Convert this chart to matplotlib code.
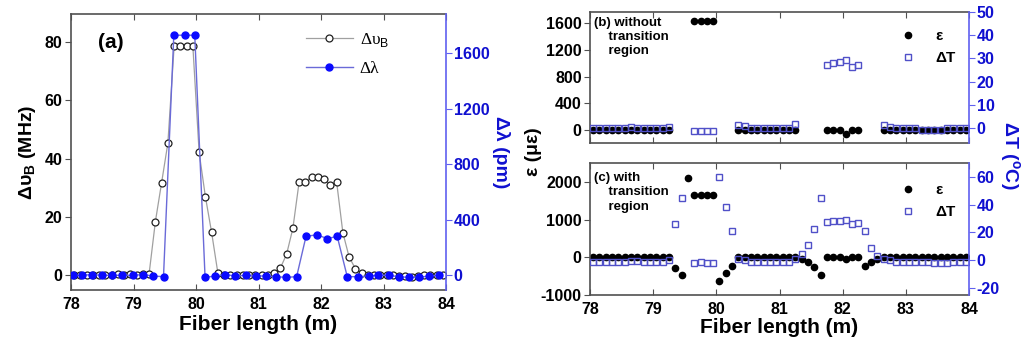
import numpy as np
import matplotlib
matplotlib.use('Agg')
import matplotlib.pyplot as plt

plt.rcParams['font.family'] = ['Liberation Sans', 'DejaVu Sans']
plt.rcParams['mathtext.fontset'] = 'custom'
plt.rcParams['mathtext.rm'] = 'Liberation Sans'
plt.rcParams['mathtext.bf'] = 'Liberation Sans:bold'
plt.rcParams['axes.unicode_minus'] = False

nan = np.nan

# ---- panel (a) data ----
x_nu = [78.05, 78.15, 78.25, 78.35, 78.45, 78.55, 78.65, 78.75, 78.85, 78.95,
        79.05, 79.15, 79.25, 79.35, 79.45, 79.55, 79.65, 79.75, 79.85, 79.95,
        80.05, 80.15, 80.25, 80.35, 80.45, 80.55, 80.65, 80.75, 80.85, 80.95,
        81.05, 81.15, 81.25, 81.35, 81.45, 81.55, 81.65, 81.75, 81.85, 81.95,
        82.05, 82.15, 82.25, 82.35, 82.45, 82.55, 82.65, 82.75, 82.85, 82.95,
        83.05, 83.15, 83.25, 83.35, 83.45, 83.55, 83.65, 83.75, 83.85, 83.95]
d_nu = [0.2, 0.1, 0.2, 0.2, 0.1, 0.3, 0.2, 0.4, 0.3, 0.4,
        0.3, 0.5, 0.6, 18.4, 31.8, 45.3, 78.4, 78.6, 78.5, 78.4,
        42.1, 27.0, 14.7, 0.8, 0.3, 0.0, 0.1, 0.3, 0.1, 0.2,
        0.3, 0.2, 0.8, 2.5, 7.3, 16.1, 32.0, 32.1, 33.6, 33.8,
        33.1, 30.8, 32.0, 14.6, 6.3, 2.3, 0.8, 0.3, 0.2, 0.3,
        0.2, 0.2, -0.1, -0.3, -0.4, -0.3, 0.0, 0.1, 0.3, 0.3]

x_lam = [78.03, 78.17, 78.34, 78.49, 78.65, 78.82, 78.99, 79.15, 79.31, 79.48,
         79.645, 79.82, 79.98, 80.145, 80.31, 80.47, 80.63, 80.80, 80.96, 81.12,
         81.28, 81.44, 81.61, 81.76, 81.93, 82.10, 82.26, 82.42, 82.59, 82.76,
         82.91, 83.08, 83.24, 83.40, 83.56, 83.73, 83.89]
d_lam = [0, 0, 5, 0, 0, 0, 0, 5, -5, -10,
         1730, 1730, 1730, -15, -5, 5, -5, 0, -5, -5,
         -10, -15, -10, 280, 292, 265, 280, -10, -10, -5,
         0, 0, -10, -15, -15, -5, 0]

# ---- panels (b) and (c) data ----
x_pos = x_nu
eps_b = [0]*13 + [nan]*3 + [1640]*4 + [nan]*3 + [0]*10 + [nan]*4 + \
        [0, 0, 0, -60, 0, 0] + [nan]*3 + [0]*14
dT_b = [0, 0, 0.3, 0, 0, 0, 0.5, 0.3, 0, 0, 0, 0.3, 0.5] + [nan]*3 + [-1]*4 + [nan]*3 + \
       [1.5, 0.8, 0, 0, 0, 0.3, 0, 0, 0.3, 2.0] + [nan]*4 + \
       [27.2, 28.2, 28.5, 29.3, 26.4, 27.0] + [nan]*3 + \
       [1.5, 0.5, 0, 0, 0, 0, -0.7, -0.7, -0.7, -0.7, 0, 0, 0, 0]

eps_c = [0]*13 + [-270, -480, 2120, 1650, 1650, 1650, 1650, -630, -410, -220] + [0]*10 + \
        [-50, -120, -250, -480, 0, 0, 0, -40, 0, 0, -215, -115, -40] + [0]*14
dT_c = [-1, -1, -1, -1, -1, -1, -0.5, -0.5, -1, -1, -1, -1, 0] + \
       [26, 45, nan, -2, -1.5, -2, -2, 60, 38, 21, 1] + \
       [0, -1, -1.5, -1.5, -1.5, -1.5, -1, -1, 1] + \
       [4.3, 10.8, 22.7, 45, 27.5, 28.2, 28.4, 29.2, 26.3, 27, 20.8, 9.1, 3.1, 1.2] + \
       [0, -1, -1, -1, -1, -1, -1.5, -2, -2, -2, -1.5, -1.5, -1.5]

BLUE = '#1010d0'
SPINE_BLUE = '#6060f0'
FRAME = '#505050'
SQ = '#5050c8'
TICK_FS = 11.5

fig = plt.figure(figsize=(10.24, 3.49), dpi=100)
W, H = 1024, 349


def box(l, r, t, b):
    return [l / W, 1 - b / H, (r - l) / W, (b - t) / H]


def style(ax, tw):
    for s in ['left', 'top', 'bottom']:
        ax.spines[s].set_color(FRAME)
        ax.spines[s].set_linewidth(1.2)
        tw.spines[s].set_visible(False)
    ax.spines['right'].set_visible(False)
    tw.spines['right'].set_color(SPINE_BLUE)
    tw.spines['right'].set_linewidth(1.2)
    ax.set_xlim(78, 84)
    ax.set_xticks([78, 79, 80, 81, 82, 83, 84])
    ax.tick_params(axis='x', direction='in', top=True, length=4, color=FRAME,
                   labelsize=TICK_FS, pad=5)
    ax.tick_params(axis='y', direction='out', length=4, color=FRAME,
                   labelsize=TICK_FS, pad=2)
    tw.tick_params(axis='y', direction='out', length=4, color=SPINE_BLUE,
                   labelcolor=BLUE, labelsize=TICK_FS, pad=1.5)
    for lab in ax.get_xticklabels() + ax.get_yticklabels() + tw.get_yticklabels():
        lab.set_fontweight('bold')


# ---- (a) ----
axa = fig.add_axes(box(71, 446, 14, 290))
twa = axa.twinx()
axa.plot(x_nu, d_nu, '-', color='#a0a0a0', lw=0.9, marker='o', ms=5,
         mfc='white', mec='#202020', mew=0.9, label='Δυ$_\\mathrm{B}$')
twa.plot(x_lam, d_lam, '-', color='#6a6ad8', lw=1.0, marker='o', ms=5,
         mfc='#0a0aff', mec='#0a0aff', label='Δλ')
axa.set_ylim(-5, 89.5)
axa.set_yticks([0, 20, 40, 60, 80])
twa.set_ylim(-106, 1883)
twa.set_yticks([0, 400, 800, 1200, 1600])
style(axa, twa)
axa.set_xlabel('Fiber length (m)', fontsize=15, fontweight='bold', labelpad=2)
axa.set_ylabel('Δυ$_\\mathbf{B}$ (MHz)', fontsize=14, fontweight='bold', labelpad=5)
twa.set_ylabel('Δλ (pm)', fontsize=14, fontweight='bold', color=BLUE,
               rotation=270, labelpad=15)
axa.text(0.107, 0.895, '(a)', transform=axa.transAxes, fontsize=15,
         fontweight='bold', ha='center', va='center')
h1, l1 = axa.get_legend_handles_labels()
h2, l2 = twa.get_legend_handles_labels()
twa.legend(h1 + h2, l1 + l2, loc='upper right', bbox_to_anchor=(0.89, 0.995),
           frameon=False, handlelength=2.7, handletextpad=0.4, labelspacing=0.7,
           prop={'family': 'Liberation Serif', 'size': 12.5})

# ---- (b) ----
axb = fig.add_axes(box(590, 969, 11.7, 143))
twb = axb.twinx()
pb1, = axb.plot(x_pos, eps_b, 'o', ms=4.5, color='black', label='ε')
pb2, = twb.plot(x_pos, dT_b, 's', ms=4.2, mfc='none', mec=SQ, mew=1.0, label='ΔT')
axb.set_ylim(-195, 1774)
axb.set_yticks([0, 400, 800, 1200, 1600])
twb.set_ylim(-6.3, 50)
twb.set_yticks([0, 10, 20, 30, 40, 50])
style(axb, twb)
axb.tick_params(axis='x', labelbottom=False)
axb.text(0.01, 0.96, '(b) without\n    transition\n    region', transform=axb.transAxes,
         fontsize=9.5, fontweight='bold', ha='left', va='top', linespacing=1.25)
twb.legend([pb1, pb2], ['ε', 'ΔT'], loc='upper right', bbox_to_anchor=(1.0, 0.97),
           frameon=False, handlelength=1.0, handletextpad=1.3, labelspacing=0.5,
           prop={'size': 11, 'weight': 'bold'})

# ---- (c) ----
axc = fig.add_axes(box(590, 969, 163, 295))
twc = axc.twinx()
pc1, = axc.plot(x_pos, eps_c, 'o', ms=4.5, color='black', label='ε')
pc2, = twc.plot(x_pos, dT_c, 's', ms=4.2, mfc='none', mec=SQ, mew=1.0, label='ΔT')
axc.set_ylim(-1000, 2513)
axc.set_yticks([-1000, 0, 1000, 2000])
twc.set_ylim(-24.8, 69.8)
twc.set_yticks([-20, 0, 20, 40, 60])
style(axc, twc)
axc.set_xlabel('Fiber length (m)', fontsize=15, fontweight='bold', labelpad=1)
axc.text(0.01, 0.93, '(c) with\n    transition\n    region', transform=axc.transAxes,
         fontsize=9.5, fontweight='bold', ha='left', va='top', linespacing=1.25)
twc.legend([pc1, pc2], ['ε', 'ΔT'], loc='upper right', bbox_to_anchor=(1.0, 0.95),
           frameon=False, handlelength=1.0, handletextpad=1.3, labelspacing=0.5,
           prop={'size': 11, 'weight': 'bold'})

fig.text(534 / W, 1 - 152 / H, 'ε (με)', fontsize=14, fontweight='bold',
         rotation=90, ha='center', va='center')
fig.text(1009 / W, 1 - 155 / H, 'ΔT ($^\\mathbf{o}$C)', fontsize=14, fontweight='bold',
         color=BLUE, rotation=270, ha='center', va='center')

fig.savefig('out.png', dpi=100)
